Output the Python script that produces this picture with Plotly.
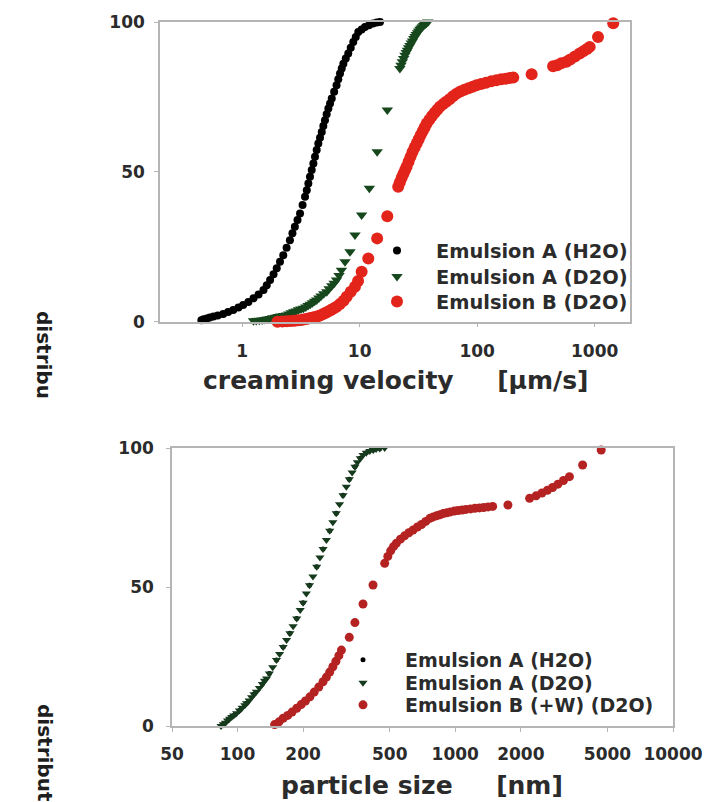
import plotly.graph_objects as go
import math

# ---------------- data: top panel (creaming velocity, µm/s) ----------------
top_x_ticks = [1, 10, 100, 1000]
top_y_ticks = [0, 50, 100]

a_h2o_v = [0.45, 0.47, 0.50, 0.53, 0.57, 0.62, 0.69, 0.76, 0.84, 0.93,
           1.02, 1.13, 1.25, 1.38, 1.52, 1.62, 1.73, 1.85, 1.97, 2.10,
           2.24, 2.39, 2.55, 2.68, 2.81, 2.96, 3.11, 3.27, 3.43, 3.55,
           3.66, 3.78, 3.91, 4.04, 4.17, 4.31, 4.45, 4.60, 4.76, 4.91,
           5.07, 5.24, 5.42, 5.60, 5.79, 6.07, 6.36, 6.58, 6.81, 7.04,
           7.27, 7.62, 8.0, 8.40, 8.83, 9.27, 9.74, 10.4, 11.1, 12.0,
           13.0, 14.0, 14.9]
a_h2o_p = [0.5, 0.8, 1.1, 1.4, 1.7, 2.1, 2.6, 3.2, 3.9, 4.7,
           5.6, 6.6, 7.8, 9.1, 10.6, 12.2, 13.9, 15.8, 17.8, 20.0,
           22.2, 24.7, 27.2, 29.5, 31.7, 33.9, 36.1, 38.9, 41.7, 43.9,
           46.1, 48.4, 50.6, 52.8, 55.0, 57.3, 59.5, 61.4, 63.3, 65.3,
           67.2, 69.2, 71.1, 72.8, 74.5, 76.7, 78.9, 80.9, 82.8, 84.5,
           86.1, 87.8, 89.5, 91.4, 93.3, 95.0, 96.7, 97.5, 98.3, 98.9,
           99.5, 99.8, 100]

a_d2o_v = [1.25, 1.32, 1.40, 1.48, 1.56, 1.64, 1.73, 1.82, 1.92, 2.02,
           2.13, 2.25, 2.39, 2.50, 2.62, 2.75, 2.88, 3.02, 3.17, 3.32,
           3.48, 3.64, 3.80, 3.97, 4.14, 4.31, 4.50, 4.70, 4.95, 5.25,
           5.50, 5.80, 6.07, 6.36, 6.68, 7.0, 7.51, 8.28, 9.13, 10.4,
           12.1, 14.1, 17.2,
           22.0, 22.5, 23.1, 23.7, 24.3, 24.9, 25.5, 26.1, 26.8, 27.5,
           28.2, 28.9, 29.6, 30.3, 31.1, 31.8, 32.6, 33.4, 34.2, 35.0,
           35.9, 37.0, 38.1]
a_d2o_p = [0.3, 0.4, 0.5, 0.6, 0.75, 0.9, 1.1, 1.3, 1.5, 1.7,
           1.9, 2.05, 2.2, 2.6, 3.0, 3.3, 3.6, 4.0, 4.2, 4.5,
           4.9, 5.4, 5.8, 6.3, 6.8, 7.2, 7.9, 8.6, 9.3, 10.0,
           11.0, 12.0, 12.8, 13.9, 15.4, 17.2, 20.0, 23.3, 28.9, 35.6,
           44.5, 56.7, 70.6,
           84.5, 85.6, 86.7, 87.8, 88.9, 89.8, 90.6, 91.4, 92.2, 93.0,
           93.7, 94.5, 95.2, 95.8, 96.4, 97.0, 97.6, 98.0, 98.4, 98.8,
           99.2, 99.6, 100]

b_d2o_v = [2.0, 2.2, 2.4, 2.6, 2.8, 3.0, 3.2, 3.4, 3.6, 3.8,
           4.0, 4.2, 4.4, 4.6, 4.85, 5.1, 5.4, 5.7, 6.0, 6.36,
           6.8, 7.3, 7.76, 8.4, 9.13, 9.7, 10.4, 11.85, 14.1, 17.2,
           21.3, 22.0, 22.8, 23.6, 24.4, 25.1, 26.1, 27.1, 28.2, 29.4,
           30.6, 31.8, 33.1, 34.5, 35.8, 37.2, 39.2, 41.3, 43.5, 45.8,
           48.2, 51.3, 54.6, 58.2, 62.3, 66.8, 72.0, 78.0, 84.5, 91.5,
           98.8, 108, 119, 132, 146, 160, 175, 189, 203,
           291,
           443, 480, 520, 576, 620, 680, 747, 800, 860, 908,
           1069, 1440]
b_d2o_p = [0.0, 0.1, 0.15, 0.2, 0.3, 0.45, 0.6, 0.8, 1.0, 1.2,
           1.4, 1.6, 1.8, 2.1, 2.5, 2.9, 3.4, 3.9, 4.4, 5.0,
           5.9, 7.0, 8.3, 10.0, 11.7, 13.6, 16.7, 21.1, 27.8, 35.2,
           45.0, 46.5, 48.0, 49.4, 50.6, 51.7, 53.4, 55.0, 56.6, 58.1,
           59.5, 60.9, 62.3, 63.6, 64.9, 66.1, 67.4, 68.6, 69.7, 70.7,
           71.7, 72.6, 73.4, 74.2, 75.2, 76.1, 76.8, 77.4, 77.9, 78.4,
           78.9, 79.3, 79.7, 80.2, 80.6, 80.9, 81.1, 81.3, 81.5,
           82.6,
           85.2, 85.6, 86.2, 86.7, 87.5, 88.5, 89.5, 90.2, 91.0, 91.7,
           95.0, 99.6]

# ---------------- data: bottom panel (particle size, nm) ----------------
bot_x_ticks = [50, 100, 200, 500, 1000, 2000, 5000, 10000]
bot_y_ticks = [0, 50, 100]

s_h2o_v = [86, 90, 96, 102, 110, 119, 130, 140, 151, 162, 174, 187, 200,
           214, 231, 247, 265, 284, 305, 326, 346, 366, 390, 420, 450]
s_h2o_p = [0.6, 2.0, 3.8, 5.6, 8.2, 11.4, 15.1, 18.9, 23.7, 28.4, 33.4, 38.7, 44.3,
           50.6, 57.3, 63.7, 70.2, 76.5, 83.0, 88.8, 93.3, 96.3, 98.3, 99.3, 99.8]

s_d2o_v = [84, 86, 88, 90, 92, 94, 96, 99, 102, 105,
           108, 110, 113, 116, 119, 122, 126, 130, 133, 136,
           140, 145, 151, 156, 162, 168, 174, 180, 187, 194,
           200, 207, 214, 222, 231, 239, 247, 256, 265, 274,
           284, 294, 305, 316, 326, 336, 346, 355, 366, 377,
           390, 405, 420, 433, 450, 474]
s_d2o_p = [0.0, 0.6, 1.2, 2.0, 2.6, 3.2, 3.8, 4.6, 5.6, 6.6,
           7.5, 8.2, 9.2, 10.3, 11.4, 12.3, 13.7, 15.1, 16.3, 17.1,
           18.9, 21.1, 23.7, 25.9, 28.4, 30.9, 33.4, 35.9, 38.7, 41.7,
           44.3, 47.7, 50.6, 53.8, 57.3, 60.6, 63.7, 66.9, 70.2, 73.3,
           76.5, 79.8, 83.0, 86.1, 88.8, 91.2, 93.3, 94.9, 96.3, 97.5,
           98.3, 98.9, 99.3, 99.6, 99.8, 100]

s_bw_v = [148, 155, 162, 170, 178, 187, 196, 205, 215, 225,
          236, 247, 256, 265, 274, 283, 292, 300,
          326, 346, 377, 419,
          474, 490, 505, 520, 536, 560, 585, 612, 640, 670,
          700, 732, 765, 792, 820, 850, 880, 915, 950, 990,
          1030, 1075, 1120, 1175, 1230, 1290, 1350, 1415, 1485,
          1745,
          2195, 2350, 2500, 2650, 2800, 2960, 3140, 3345,
          3845, 4680]
s_bw_p = [0.5, 1.5, 2.8, 3.8, 5.0, 6.4, 7.7, 9.0, 10.5, 12.2,
          14.0, 15.9, 17.6, 19.4, 21.3, 23.3, 25.3, 27.3,
          31.9, 37.2, 43.9, 50.7,
          58.5, 61.0, 63.0, 64.5, 65.7, 67.2, 68.4, 69.5, 70.5, 71.6,
          72.5, 73.6, 74.7, 75.2, 75.6, 76.0, 76.4, 76.7, 77.0, 77.3,
          77.5, 77.7, 77.9, 78.1, 78.3, 78.45, 78.6, 78.8, 79.0,
          79.5,
          81.9, 82.8, 83.8, 84.8, 85.8, 87.0, 88.3, 89.7,
          93.9, 99.3]

# ---------------- styling ----------------
W, H = 709, 802
FONT = "DejaVu Sans"
TXT = "#2b2b2b"
BLACK = "#000000"
GREEN_T = "#17481d"
RED_T = "#e3241b"
GREEN_B = "#163a1c"
RED_B = "#b42222"


def px_x(p):
    return p / W


def px_y(p):
    return 1 - p / H


fig = go.Figure()

# top panel
fig.add_trace(go.Scatter(x=a_h2o_v, y=a_h2o_p, mode="markers", name="Emulsion A (H2O)",
                         marker=dict(color=BLACK, size=8, symbol="circle"),
                         xaxis="x", yaxis="y", cliponaxis=False, legend="legend"))
fig.add_trace(go.Scatter(x=a_d2o_v, y=a_d2o_p, mode="markers", name="Emulsion A (D2O)",
                         marker=dict(color=GREEN_T, size=10, symbol="triangle-down"),
                         xaxis="x", yaxis="y", cliponaxis=False, legend="legend2"))
fig.add_trace(go.Scatter(x=b_d2o_v, y=b_d2o_p, mode="markers", name="Emulsion B (D2O)",
                         marker=dict(color=RED_T, size=12, symbol="circle"),
                         xaxis="x", yaxis="y", cliponaxis=False, legend="legend3"))

# bottom panel
fig.add_trace(go.Scatter(x=s_h2o_v, y=s_h2o_p, mode="markers", name="Emulsion A (H2O)",
                         marker=dict(color=BLACK, size=5, symbol="circle"),
                         xaxis="x2", yaxis="y2", cliponaxis=False, legend="legend4"))
fig.add_trace(go.Scatter(x=s_d2o_v, y=s_d2o_p, mode="markers", name="Emulsion A (D2O)",
                         marker=dict(color=GREEN_B, size=8, symbol="triangle-down"),
                         xaxis="x2", yaxis="y2", cliponaxis=False, legend="legend5"))
fig.add_trace(go.Scatter(x=s_bw_v, y=s_bw_p, mode="markers", name="Emulsion B (+W) (D2O)",
                         marker=dict(color=RED_B, size=9, symbol="circle"),
                         xaxis="x2", yaxis="y2", cliponaxis=False, legend="legend6"))

tickfont = dict(family=FONT, size=17, color=TXT, weight="bold")
axis_common = dict(showline=True, mirror=True, linecolor="#b5b5b5", linewidth=1.5,
                   showgrid=False, zeroline=False, ticks="outside", ticklen=4,
                   tickcolor="#b5b5b5", tickfont=tickfont, fixedrange=True)


def legend_at(text_x, row_y, size, itemwidth):
    return dict(x=px_x(text_x - itemwidth - 11), y=px_y(row_y), xanchor="left",
                yanchor="middle", bgcolor="rgba(0,0,0,0)", itemwidth=itemwidth,
                font=dict(family=FONT, size=size, color=TXT, weight="bold"))


fig.update_layout(
    width=W, height=H,
    margin=dict(l=0, r=0, t=0, b=0, pad=0, autoexpand=False),
    paper_bgcolor="white", plot_bgcolor="white",
    xaxis=dict(domain=[px_x(160), px_x(630)], type="log",
               range=[math.log10(0.2), math.log10(2000)],
               tickvals=top_x_ticks, ticktext=[str(v) for v in top_x_ticks],
               anchor="y", ticklabelstandoff=9, **axis_common),
    yaxis=dict(domain=[px_y(321.7), px_y(22)], range=[0, 100],
               tickvals=top_y_ticks, anchor="x", ticklabelstandoff=6, **axis_common),
    xaxis2=dict(domain=[px_x(172), px_x(673)], type="log",
                range=[math.log10(50), math.log10(10000)],
                tickvals=bot_x_ticks, ticktext=[str(v) for v in bot_x_ticks],
                anchor="y2", ticklabelstandoff=8, **axis_common),
    yaxis2=dict(domain=[px_y(726), px_y(448)], range=[0, 100],
                tickvals=bot_y_ticks, anchor="x2", ticklabelstandoff=9, **axis_common),
    legend=legend_at(437, 251, 19.4, 68),
    legend2=legend_at(437, 277, 19.4, 68),
    legend3=legend_at(437, 302, 19.4, 68),
    legend4=legend_at(406, 660, 19, 74),
    legend5=legend_at(406, 683, 19, 74),
    legend6=legend_at(406, 705, 19, 74),
    showlegend=True,
)

title_font = dict(family=FONT, size=25, color=TXT, weight="bold")
gap = "\u00a0" * 5
fig.add_annotation(text="creaming velocity" + gap + "[µm/s]", xref="paper", yref="paper",
                   x=px_x(395), y=px_y(380), xanchor="center", yanchor="middle",
                   showarrow=False, font=title_font)
fig.add_annotation(text="particle size" + gap + "[nm]", xref="paper", yref="paper",
                   x=px_x(422), y=px_y(785), xanchor="center", yanchor="middle",
                   showarrow=False, font=title_font)

side_font = dict(family=FONT, size=20, color="#1e1e1e", weight="bold")
fig.add_annotation(text="distribu", xref="paper", yref="paper", textangle=90,
                   x=px_x(44), y=px_y(309), xanchor="center", yanchor="top",
                   showarrow=False, font=side_font)
fig.add_annotation(text="distribut", xref="paper", yref="paper", textangle=90,
                   x=px_x(45), y=px_y(702), xanchor="center", yanchor="top",
                   showarrow=False, font=side_font)

fig.write_html("out.html",
               config={"displayModeBar": False},
               post_script="document.body.style.margin='0';"
                           "document.body.style.overflow='hidden';")
